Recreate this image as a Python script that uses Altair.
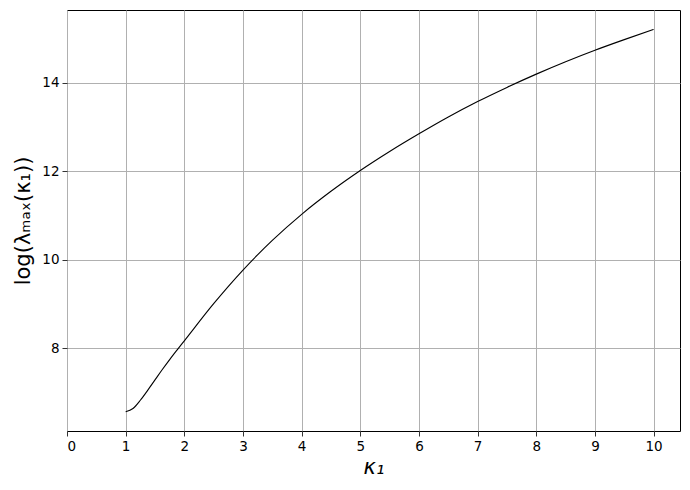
import altair as alt
import pandas as pd

kappa = [1.0, 1.125, 1.25, 1.375, 1.5, 1.625, 1.75, 1.875, 2.0, 2.5, 3.0, 3.5, 4.0, 4.5,
         5.0, 5.5, 6.0, 6.5, 7.0, 7.5, 8.0, 8.5, 9.0, 9.5, 10.0]
log_lmax = [6.565, 6.64, 6.825, 7.05, 7.285, 7.52, 7.745, 7.96, 8.17, 9.01, 9.77, 10.44, 11.03, 11.55,
            12.02, 12.45, 12.85, 13.23, 13.58, 13.90, 14.20, 14.48, 14.74, 14.98, 15.21]
x_ticks = [0, 1, 2, 3, 4, 5, 6, 7, 8, 9, 10]
y_ticks = [8, 10, 12, 14]

df = pd.DataFrame({"k": kappa, "v": log_lmax})

chart = alt.Chart(df).mark_line(color="black", strokeWidth=1.1, interpolate="monotone").encode(
    x=alt.X("k:Q", scale=alt.Scale(domain=[0, 10.45], nice=False, zero=False),
            axis=alt.Axis(values=x_ticks, title="κ₁", format="d")),
    y=alt.Y("v:Q", scale=alt.Scale(domain=[6.13, 15.65], nice=False, zero=False),
            axis=alt.Axis(values=y_ticks, title="log(λₘₐₓ(κ₁))", format="d")),
).properties(
    width=613, height=421,
    autosize=alt.AutoSizeParams(type="none"),
    padding={"left": 59, "top": 2, "right": 2, "bottom": 51},
).configure_view(
    stroke="black", strokeWidth=1
).configure_axis(
    grid=True, gridColor="#b0b0b0", gridWidth=1,
    domain=False, tickColor="black", tickSize=5, tickWidth=0.8,
    labelFont="DejaVu Sans", labelFontSize=13.5, labelColor="black", labelPadding=3,
    titleFont="DejaVu Sans", titleFontSize=21, titleFontWeight="normal", titleColor="black",
).configure_axisX(titlePadding=4, titleFontStyle="italic").configure_axisY(titlePadding=8)

chart.save("out.html", embed_options={"renderer": "svg", "actions": False})
